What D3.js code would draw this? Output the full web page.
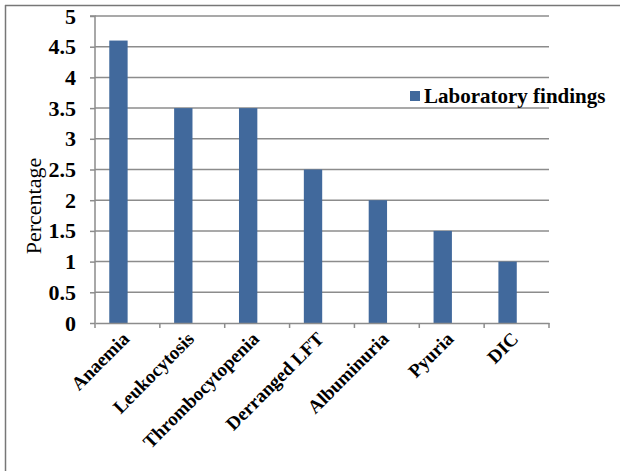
<!DOCTYPE html>
<html><head><meta charset="utf-8">
<script src="https://cdn.jsdelivr.net/npm/d3@7/dist/d3.min.js"></script>
<style>
body{margin:0;background:#fff;}
svg{display:block;}
text{font-family:"Liberation Serif","Times New Roman",serif;}
</style></head>
<body>
<svg id="c" width="620" height="471"></svg>
<script>
const categories = ["Anaemia","Leukocytosis","Thrombocytopenia","Derranged LFT","Albuminuria","Pyuria","DIC"];
const values = [4.6,3.5,3.5,2.5,2.0,1.5,1.0];
const yTicks = [0,0.5,1,1.5,2,2.5,3,3.5,4,4.5,5];
const seriesName = "Laboratory findings";
const yLabel = "Percentage";

const svg = d3.select("#c");
const W = 620, H = 471;
const m = {left:95, right:549, top:16, bottom:323};
const barColor = "#41699c";
const gridColor = "#8c8c8c";

// outer border (top and left)
svg.append("line").attr("x1",5).attr("x2",W).attr("y1",5.5).attr("y2",5.5).attr("stroke","#777").attr("stroke-width",1.5);
svg.append("line").attr("x1",5.5).attr("x2",5.5).attr("y1",5).attr("y2",H).attr("stroke","#777").attr("stroke-width",1.5);

const x = d3.scaleBand().domain(categories).range([m.left, m.right]).padding(0);
const y = d3.scaleLinear().domain([0,5]).range([m.bottom, m.top]);

// gridlines
svg.append("g").selectAll("line").data(yTicks.filter(d=>d>0)).join("line")
  .attr("x1",m.left).attr("x2",m.right)
  .attr("y1",d=>y(d)).attr("y2",d=>y(d))
  .attr("stroke",gridColor).attr("stroke-width",1.5);

// bars
svg.append("g").selectAll("rect").data(values).join("rect")
  .attr("x",(d,i)=>x(categories[i]) + x.bandwidth()*0.22)
  .attr("width",x.bandwidth()*0.283)
  .attr("y",d=>y(d))
  .attr("height",d=>y(0)-y(d))
  .attr("fill",barColor);

// y axis
const ya = svg.append("g").attr("transform",`translate(${m.left},0)`)
  .call(d3.axisLeft(y).tickValues(yTicks).tickSize(5).tickPadding(14).tickFormat(d=>d3.format("")(d)));
ya.select(".domain").attr("stroke",gridColor).attr("stroke-width",1.5).attr("d",`M-5,${m.top}H0V${m.bottom}`);
ya.selectAll(".tick line").attr("stroke",gridColor).attr("stroke-width",1.5);
ya.selectAll(".tick text").attr("font-weight","bold").attr("font-size",22).attr("fill","#000");

// x axis
const xa = svg.append("g").attr("transform",`translate(0,${m.bottom})`)
  .call(d3.axisBottom(x).tickSize(0).tickFormat(""));
xa.select(".domain").attr("stroke",gridColor).attr("stroke-width",1.5);
xa.selectAll(".tick").remove();
const bounds = [m.left].concat(categories.map(c=>x(c)+x.bandwidth()));
xa.selectAll("line.tk").data(bounds).join("line").attr("class","tk")
  .attr("x1",d=>d).attr("x2",d=>d).attr("y1",0).attr("y2",5)
  .attr("stroke",gridColor).attr("stroke-width",1.5);
svg.append("g").selectAll("text").data(categories).join("text")
  .attr("transform",d=>`translate(${x(d)+x.bandwidth()/2+3},${m.bottom+17}) rotate(-45)`)
  .attr("text-anchor","end")
  .attr("font-weight","bold").attr("font-size",19).attr("fill","#000")
  .text(d=>d);

// y label
svg.append("text").attr("transform",`translate(41,206) rotate(-90)`)
  .attr("text-anchor","middle").attr("font-size",22).attr("fill","#000").text(yLabel);

// legend
svg.append("rect").attr("x",410).attr("y",91).attr("width",10).attr("height",10).attr("fill",barColor);
svg.append("text").attr("x",424).attr("y",103).attr("font-weight","bold").attr("font-size",21).attr("fill","#000").text(seriesName);
</script>
</body></html>
